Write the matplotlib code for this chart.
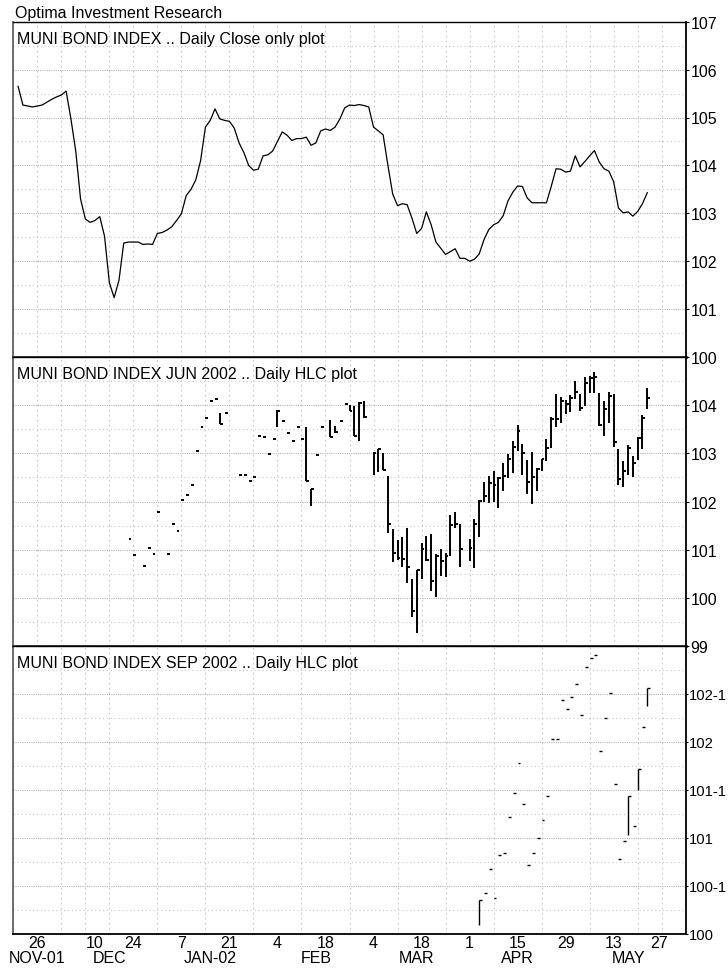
import matplotlib

matplotlib.use("Agg")
import matplotlib.pyplot as plt

plt.rcParams["font.family"] = ["Liberation Sans", "DejaVu Sans"]

# ---- data (x = trading-day index from Nov-01 start) ----
index_days = list(range(1, 133))
index_close = [
    105.65, 105.26, 105.24, 105.22, 105.24, 105.26, 105.32, 105.38, 105.43, 105.47,
    105.55, 104.97, 104.30, 103.30, 102.88, 102.81, 102.85, 102.93, 102.52, 101.55,
    101.24, 101.60, 102.38, 102.40, 102.40, 102.40, 102.35, 102.36, 102.35, 102.58,
    102.60, 102.65, 102.72, 102.85, 102.99, 103.37, 103.50, 103.70, 104.10, 104.80,
    104.94, 105.18, 104.97, 104.94, 104.92, 104.78, 104.47, 104.27, 104.00, 103.90,
    103.92, 104.20, 104.22, 104.30, 104.50, 104.70, 104.63, 104.52, 104.56, 104.56,
    104.59, 104.42, 104.47, 104.72, 104.76, 104.73, 104.80, 104.97, 105.20, 105.26,
    105.25, 105.27, 105.25, 105.22, 104.80, 104.72, 104.64, 104.00, 103.40, 103.16,
    103.20, 103.18, 102.90, 102.58, 102.68, 103.03, 102.76, 102.40, 102.27, 102.14,
    102.20, 102.26, 102.06, 102.06, 102.00, 102.04, 102.15, 102.45, 102.66, 102.76,
    102.81, 102.95, 103.26, 103.44, 103.57, 103.56, 103.32, 103.22, 103.22, 103.22,
    103.22, 103.56, 103.93, 103.92, 103.86, 103.88, 104.20, 103.97, 104.08, 104.20,
    104.31, 104.07, 103.93, 103.88, 103.66, 103.11, 103.01, 103.03, 102.94, 103.04,
    103.20, 103.43,
]

jun_days = [
    24, 25, 27, 28, 29, 30, 32, 33, 34, 35, 36, 37, 38, 39, 40, 41, 42, 43, 44,
    47, 48, 49, 50, 51, 52, 53, 54, 55, 56, 57, 58, 59, 60, 61, 62, 63, 64,
    66, 67, 68, 69, 70, 71, 72, 73, 75, 76, 77, 78, 79, 80, 81, 82, 83, 84,
    85, 86, 87, 88, 89, 90, 91, 92, 93, 95, 96, 97, 98, 99, 100, 101, 102,
    103, 104, 105, 106, 107, 108, 109, 110, 111, 112, 113, 114, 115, 116, 117,
    118, 119, 120, 121, 122, 123, 124, 125, 126, 127, 128, 129, 130, 131, 132,
]
jun_high = [
    101.23, 100.89, 100.67, 101.04, 100.92, 101.79, 100.92, 101.54, 101.39, 102.04,
    102.13, 102.35, 103.04, 103.54, 103.74, 104.08, 104.13, 103.83, 103.83,
    102.54, 102.54, 102.42, 102.51, 103.36, 103.33, 102.98, 103.29, 103.90, 103.67,
    103.43, 103.26, 103.54, 103.29, 103.54, 102.26, 102.96, 103.54,
    103.69, 103.57, 103.67, 104.03, 104.00, 103.99, 104.07, 104.09, 103.03, 103.10,
    103.01, 102.53, 101.42, 101.21, 101.26, 101.45, 100.39, 100.57,
    101.14, 101.29, 101.33, 100.92, 101.01, 100.94, 101.71, 101.79, 101.54, 101.23,
    101.63, 102.03, 102.40, 102.53, 102.63, 102.51, 102.79,
    102.98, 103.26, 103.58, 103.19, 102.86, 103.03, 102.70, 102.89, 103.29, 103.76,
    104.23, 104.16, 104.11, 104.21, 104.51,
    104.23, 104.58, 104.61, 104.69, 104.26, 104.09, 104.28, 104.24, 103.10, 102.84,
    103.17, 102.94, 103.33, 103.79, 104.35,
]
jun_low = [
    101.23, 100.89, 100.67, 101.04, 100.92, 101.79, 100.92, 101.54, 101.39, 102.04,
    102.13, 102.35, 103.04, 103.54, 103.74, 104.08, 104.13, 103.60, 103.83,
    102.54, 102.54, 102.42, 102.51, 103.36, 103.33, 102.98, 103.29, 103.54, 103.67,
    103.43, 103.26, 103.54, 103.29, 102.42, 101.90, 102.96, 103.54,
    103.33, 103.43, 103.67, 104.03, 103.88, 103.36, 103.26, 103.74, 102.56, 102.61,
    102.65, 101.35, 100.74, 100.79, 100.64, 100.31, 99.61, 99.26,
    100.39, 100.76, 100.15, 100.01, 100.46, 100.43, 100.86, 101.45, 100.64, 100.76,
    100.62, 101.26, 101.99, 101.96, 101.99, 101.87, 102.21,
    102.49, 102.60, 103.05, 102.54, 102.15, 101.94, 102.21, 102.63, 102.84, 103.12,
    103.54, 103.63, 103.81, 103.85, 104.13,
    103.88, 103.99, 104.25, 104.25, 103.57, 103.36, 103.64, 103.14, 102.35, 102.31,
    102.54, 102.51, 102.86, 103.08, 103.93,
]
jun_close = [
    101.23, 100.89, 100.67, 101.04, 100.92, 101.79, 100.92, 101.54, 101.39, 102.04,
    102.13, 102.35, 103.04, 103.54, 103.74, 104.08, 104.13, 103.60, 103.83,
    102.54, 102.54, 102.42, 102.51, 103.36, 103.33, 102.98, 103.29, 103.88, 103.67,
    103.43, 103.26, 103.54, 103.29, 102.42, 102.26, 102.96, 103.54,
    103.33, 103.45, 103.67, 104.03, 103.88, 103.36, 104.05, 103.76, 103.00, 103.08,
    102.65, 101.54, 100.94, 100.83, 100.81, 100.64, 99.73, 100.57,
    101.01, 100.79, 100.34, 100.86, 100.77, 100.86, 101.51, 101.54, 101.01, 101.03,
    101.54, 102.01, 102.11, 102.38, 102.35, 102.49, 102.53,
    102.89, 103.14, 103.46, 103.01, 102.40, 102.51, 102.68, 102.88, 103.12, 103.71,
    103.71, 104.09, 104.02, 104.14, 104.28,
    103.95, 104.46, 104.56, 104.58, 103.58, 103.93, 104.18, 103.24, 102.46, 102.63,
    103.12, 102.79, 103.31, 103.74, 104.14,
]

sep_days = [
    97, 98, 99, 100, 101, 102, 103, 104, 105, 106, 107, 108, 109, 110, 111, 112,
    113, 114, 115, 116, 117, 118, 119, 120, 121, 122, 123, 124, 125, 126, 127,
    128, 129, 130, 131, 132,
]
sep_high = [
    100.35, 100.43, 100.68, 100.38, 100.82, 100.84, 101.22, 101.47, 101.78, 101.35,
    100.72, 100.84, 101.00, 101.19, 101.44, 102.03, 102.03, 102.44, 102.34, 102.47,
    102.60, 102.28, 102.78, 102.88, 102.91, 101.91, 102.25, 102.51, 101.56, 100.78,
    100.97, 101.44, 101.13, 101.72, 102.16, 102.56,
]
sep_low = [
    100.09, 100.43, 100.68, 100.38, 100.82, 100.84, 101.22, 101.47, 101.78, 101.35,
    100.72, 100.84, 101.00, 101.19, 101.44, 102.03, 102.03, 102.44, 102.34, 102.47,
    102.60, 102.28, 102.78, 102.88, 102.91, 101.91, 102.25, 102.51, 101.56, 100.78,
    100.97, 101.03, 101.13, 101.50, 102.16, 102.38,
]
sep_close = [
    100.35, 100.43, 100.68, 100.38, 100.82, 100.84, 101.22, 101.47, 101.78, 101.35,
    100.72, 100.84, 101.00, 101.19, 101.44, 102.03, 102.03, 102.44, 102.34, 102.47,
    102.60, 102.28, 102.78, 102.88, 102.91, 101.91, 102.25, 102.51, 101.56, 100.78,
    100.97, 101.44, 101.13, 101.72, 102.16, 102.56,
]

day_tick_pos = [5, 17, 25, 35, 45, 55, 65, 75, 85, 95, 105, 115, 125, 134.5]
day_tick_labels = ["26", "10", "24", "7", "21", "4", "18", "4", "18", "1", "15", "29", "13", "27"]
month_pos = [5, 20, 41, 63, 84, 105, 128]
month_labels = ["NOV-01", "DEC", "JAN-02", "FEB", "MAR", "APR", "MAY"]

panel1_ticks = [100, 101, 102, 103, 104, 105, 106, 107]
panel2_ticks = [99, 100, 101, 102, 103, 104]
panel3_ticks = [100, 100.5, 101, 101.5, 102, 102.5]
panel3_labels = ["100", "100-1", "101", "101-1", "102", "102-1"]

FS = 11.5
W, H = 728, 970
fig = plt.figure(figsize=(W / 100, H / 100), dpi=100)
left_px, right_px = 13.3, 685.7
bounds = [(22.7, 358.0), (358.0, 647.0), (647.0, 935.0)]
axes = []
for top_px, bot_px in bounds:
    ax = fig.add_axes([left_px / W, 1 - bot_px / H, (right_px - left_px) / W, (bot_px - top_px) / H])
    axes.append(ax)
ax1, ax2, ax3 = axes


def style_axis(ax, ylim, yticks, ylabels, minor_step):
    ax.set_xlim(0, 140)
    ax.set_ylim(*ylim)
    ax.yaxis.tick_right()
    ax.set_yticks(yticks)
    ax.set_yticklabels(ylabels)
    minor = []
    v = ylim[0]
    while v < ylim[1] - 1e-9:
        minor.append(v + minor_step)
        v += 2 * minor_step
    ax.set_yticks(minor, minor=True)
    ax.set_xticks(list(range(0, 141, 5)), minor=True)
    ax.tick_params(axis="y", which="major", length=2, pad=1.5, labelsize=FS, colors="black")
    ax.tick_params(axis="both", which="minor", length=0)
    ax.tick_params(axis="x", which="major", length=0)
    ax.grid(which="major", axis="y", color="#b4b4b4", linestyle=(0, (1, 1)), linewidth=0.8)
    ax.grid(which="minor", axis="y", color="#c8c8c8", linestyle=(0, (1, 2.5)), linewidth=0.8)
    ax.grid(which="minor", axis="x", color="#c8c8c8", linestyle=(0, (1.5, 3)), linewidth=0.8)
    ax.grid(which="major", axis="x", visible=False)
    ax.set_axisbelow(True)
    ax.spines["left"].set_color("#555555")
    ax.spines["left"].set_linewidth(1.2)
    ax.spines["right"].set_linewidth(1.3)
    ax.spines["top"].set_linewidth(1.0)
    ax.spines["bottom"].set_linewidth(1.8)


style_axis(ax1, (100, 107), panel1_ticks, [str(t) for t in panel1_ticks], 0.5)
style_axis(ax2, (99, 105), panel2_ticks, [str(t) for t in panel2_ticks], 0.5)
style_axis(ax3, (100, 103), panel3_ticks, panel3_labels, 0.25)
ax1.set_xticks([])
ax2.set_xticks([])
ax3.spines["bottom"].set_linewidth(1.3)
# the 32nds labels are wider; keep them inside the picture
ax3.tick_params(axis="y", which="major", labelsize=10.6, pad=1.0, length=1.5)

# panel 1: close-only line
ax1.plot(index_days, index_close, color="black", linewidth=0.9)

# panel 2 / 3: high-low-close bars
def hlc(ax, days, high, low, close, lw):
    ax.vlines(days, low, high, colors="black", linewidth=lw)
    ax.hlines(close, days, [d + 0.6 for d in days], colors="black", linewidth=lw)


hlc(ax2, jun_days, jun_high, jun_low, jun_close, 1.4)
hlc(ax3, sep_days, sep_high, sep_low, sep_close, 1.0)

titles = [
    "MUNI BOND INDEX .. Daily Close only plot",
    "MUNI BOND INDEX JUN 2002 .. Daily HLC plot",
    "MUNI BOND INDEX SEP 2002 .. Daily HLC plot",
]
for ax, title in zip(axes, titles):
    ax.annotate(title, xy=(0, 1), xycoords="axes fraction", xytext=(2.4, -6.4),
                textcoords="offset points", ha="left", va="top", fontsize=FS)

ax3.set_xticks(day_tick_pos)
ax3.set_xticklabels(day_tick_labels)
ax3.tick_params(axis="x", which="major", length=0, pad=1.0, labelsize=FS)
for x, label in zip(month_pos, month_labels):
    ax3.text(x, -0.097, label, transform=ax3.get_xaxis_transform(), ha="center",
             va="baseline", fontsize=FS)

fig.text(15 / W, 1 - 17.7 / H, "Optima Investment Research", ha="left", va="baseline", fontsize=FS)

fig.savefig("out.png", dpi=100)
